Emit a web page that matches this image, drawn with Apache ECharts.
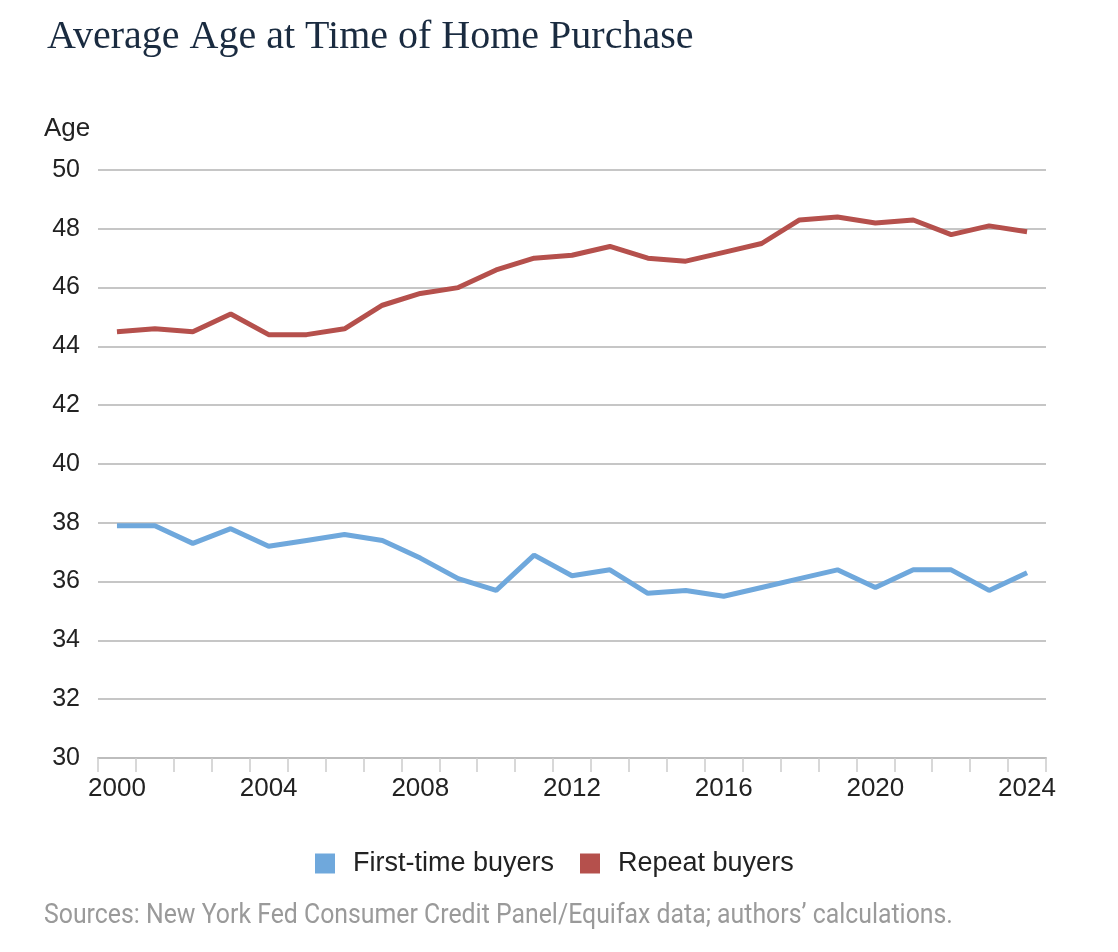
<!DOCTYPE html>
<html><head><meta charset="utf-8">
<script src="https://cdn.jsdelivr.net/npm/echarts@6/dist/echarts.min.js"></script>
<style>html,body{margin:0;padding:0;background:#fff;}#c{width:1118px;height:952px;}</style>
</head><body><div id="c"></div>
<script>
var years = ['2000','2001','2002','2003','2004','2005','2006','2007','2008','2009','2010','2011','2012','2013','2014','2015','2016','2017','2018','2019','2020','2021','2022','2023','2024'];
var firstTime = [37.9,37.9,37.3,37.8,37.2,37.4,37.6,37.4,36.8,36.1,35.7,36.9,36.2,36.4,35.6,35.7,35.5,35.8,36.1,36.4,35.8,36.4,36.4,35.7,36.3];
var repeat = [44.5,44.6,44.5,45.1,44.4,44.4,44.6,45.4,45.8,46.0,46.6,47.0,47.1,47.4,47.0,46.9,47.2,47.5,48.3,48.4,48.2,48.3,47.8,48.1,47.9];
var yTicks = {min:30, max:50, interval:2};

var chart = echarts.init(document.getElementById('c'));
chart.setOption({
  animation:false,
  backgroundColor:'#fff',
  title:{text:'Average Age at Time of Home Purchase', left:42, top:12,
    textStyle:{fontFamily:'Liberation Serif', fontWeight:'normal', fontSize:40, color:'#1a2b40'}},
  graphic:[
    {type:'text', left:44, top:116, style:{text:'Age', font:'26px "Liberation Sans"', fill:'#222'}},
    {type:'text', x:44, y:903, scaleX:0.92, style:{text:'Sources: New York Fed Consumer Credit Panel/Equifax data; authors\u2019 calculations.', font:'27px Roboto', fill:'#9a9a9a'}}
  ],
  legend:{data:['First-time buyers','Repeat buyers'], left:310, top:845, icon:'rect', itemWidth:20, itemHeight:20, itemGap:26,
    textStyle:{fontFamily:'Liberation Sans', fontSize:27, color:'#222', padding:[0,0,0,13]}},
  grid:{left:98, right:72, top:170, bottom:194},
  xAxis:{type:'category', data:years, boundaryGap:true,
    axisLine:{lineStyle:{color:'#bdbdbd', width:2}},
    axisTick:{show:true, interval:0, length:14, lineStyle:{color:'#cccccc', width:1.5}},
    axisLabel:{interval:3, margin:18, fontFamily:'Liberation Sans', fontSize:26, color:'#222'}},
  yAxis:{type:'value', min:yTicks.min, max:yTicks.max, interval:yTicks.interval,
    axisLine:{show:false}, axisTick:{show:false},
    axisLabel:{margin:18, fontFamily:'Liberation Sans', fontSize:25, color:'#222'},
    splitLine:{lineStyle:{color:'#c6c6c6', width:2}}},
  series:[
    {name:'First-time buyers', type:'line', data:firstTime, symbol:'none', color:'#6fa8dc', lineStyle:{width:5, color:'#6fa8dc'}},
    {name:'Repeat buyers', type:'line', data:repeat, symbol:'none', color:'#b5504c', lineStyle:{width:5, color:'#b5504c'}}
  ]
});
</script></body></html>
